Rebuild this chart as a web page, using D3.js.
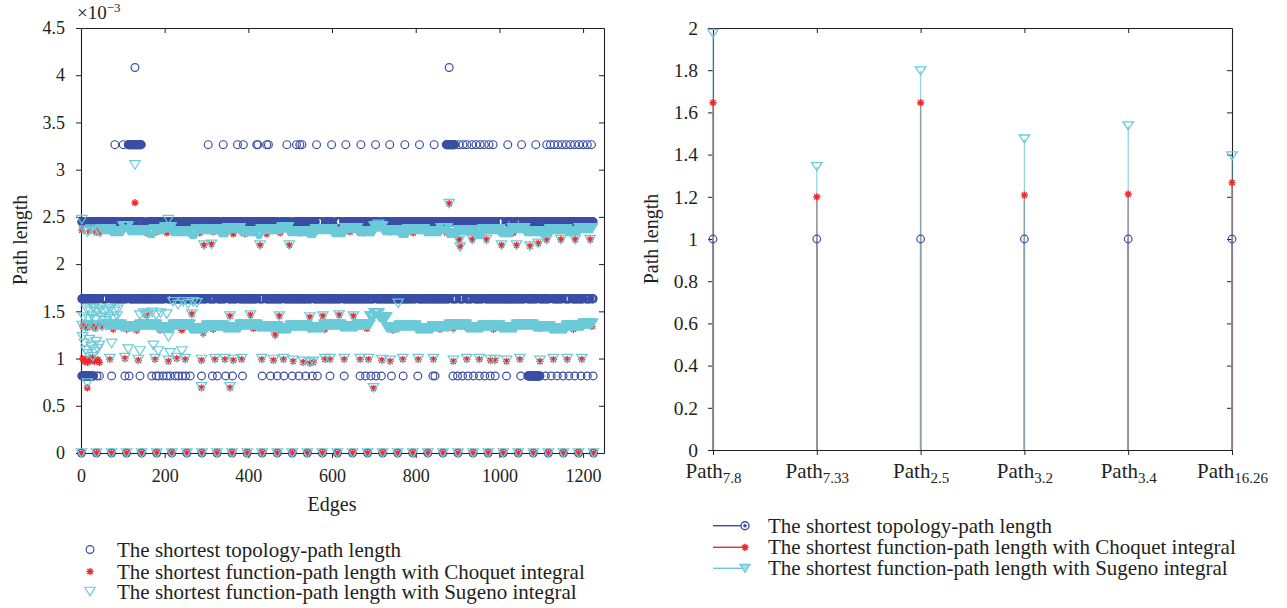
<!DOCTYPE html>
<html>
<head>
<meta charset="utf-8">
<script src="https://cdn.jsdelivr.net/npm/d3@7"></script>
<style>
  body { margin: 0; background: #fff; }
  svg { display: block; }
  svg text { font-family: "Liberation Serif", "DejaVu Serif", serif !important; }
</style>
</head>
<body>
<svg id="chart" width="1287" height="608"></svg>
<script>
// ---------------- left panel: path length per edge (values ×10^-3) ----------------
const edgeTicks = [0, 200, 400, 600, 800, 1000, 1200];
const lengthTicks = [0, 0.5, 1, 1.5, 2, 2.5, 3, 3.5, 4, 4.5];

// self-pairs of the 35-node network: every series is 0 there
const diagonalEdges = [1, 37, 73, 109, 145, 181, 217, 253, 289, 325, 361, 397, 433, 469, 505, 541, 577, 613,
  649, 685, 721, 757, 793, 829, 865, 901, 937, 973, 1009, 1045, 1081, 1117, 1153, 1189, 1225];

// topology path length for 1..5 hops
const topologyLevels = [0.816, 1.633, 2.449, 3.265, 4.082];

// 1 hop
const topologyRuns1 = [[2, 30], [1068, 1097]];
const topologyEdges1 = [38, 44, 73, 105, 115, 141, 169, 180, 186, 196, 205, 213, 225, 233, 242, 250, 261, 288,
  314, 326, 346, 362, 386, 433, 453, 469, 485, 505, 521, 537, 553, 565, 595, 629, 667, 680, 693, 705, 718, 742,
  770, 805, 841, 846, 889, 900, 912, 925, 938, 952, 965, 978, 990, 1017, 1051, 1110, 1124, 1138, 1152, 1166,
  1180, 1195, 1210, 1224];
// 2 hops
const topologyRuns2 = [[2, 44], [50, 62], [70, 110], [116, 200], [206, 216], [222, 300], [306, 320], [326, 344],
  [352, 372], [378, 420], [426, 436], [442, 480], [486, 550], [556, 620], [626, 700], [706, 800], [806, 880],
  [886, 898], [904, 914], [920, 934], [940, 960], [966, 1060], [1066, 1090], [1096, 1120], [1128, 1150],
  [1156, 1168], [1174, 1200], [1206, 1216], [1220, 1224]];
// 3 hops
const topologyRuns3 = [[2, 40], [46, 96], [104, 126], [134, 150], [160, 200], [208, 236], [244, 262], [270, 300],
  [306, 330], [338, 400], [408, 470], [478, 500], [510, 560], [566, 575], [584, 600], [610, 620], [628, 660],
  [668, 690], [698, 712], [720, 740], [748, 800], [806, 852], [858, 900], [906, 960], [966, 990], [998, 1008],
  [1016, 1030], [1038, 1052], [1060, 1100], [1106, 1150], [1158, 1190], [1196, 1224]];
// 4 hops
const topologyRuns4 = [[113, 145], [873, 893]];
const topologyEdges4 = [81, 101, 304, 340, 374, 388, 420, 423, 444, 448, 492, 515, 523, 528, 563, 599, 633, 669,
  704, 738, 774, 809, 844, 903, 913, 922, 934, 944, 954, 964, 975, 985, 1020, 1053, 1087, 1113, 1122, 1131,
  1140, 1150, 1160, 1170, 1180, 1190, 1200, 1210, 1220];
// 5 hops
const topologyEdges5 = [129, 880];

// function path length with Choquet integral: [edge, length]
const choquetPoints = [
  [2, 2.36], [20, 2.35], [36, 2.34], [40, 2.36], [44, 2.33], [129, 2.65], [880, 2.64], [711, 2.42], [993, 2.37],
  [157, 2.33], [181, 2.34], [205, 2.33], [221, 2.35], [284, 2.33], [316, 2.34], [364, 2.32], [392, 2.32],
  [444, 2.32], [476, 2.33], [523, 2.33], [555, 2.34], [619, 2.33], [643, 2.34], [675, 2.33], [738, 2.34],
  [794, 2.33], [826, 2.34], [874, 2.33], [1033, 2.33], [1065, 2.34],
  [294, 2.2], [312, 2.21], [428, 2.2], [498, 2.2], [904, 2.26], [906, 2.19], [935, 2.26], [969, 2.26],
  [1005, 2.2], [1041, 2.2], [1073, 2.19], [1093, 2.22], [1113, 2.26], [1147, 2.26], [1181, 2.26], [1217, 2.26],
  [157, 1.46], [265, 1.47], [356, 1.45], [405, 1.46], [474, 1.45], [547, 1.44], [578, 1.45], [617, 1.46], [651, 1.45],
  [4, 1.34], [10, 1.36], [16, 1.33], [22, 1.37], [28, 1.35], [34, 1.32], [42, 1.36], [48, 1.34],
  [77, 1.31], [109, 1.31], [133, 1.3], [189, 1.3], [241, 1.3], [316, 1.31], [412, 1.32], [484, 1.32],
  [583, 1.31], [683, 1.32], [746, 1.3], [858, 1.31], [890, 1.32], [922, 1.33], [946, 1.32], [986, 1.31],
  [1097, 1.32], [1129, 1.33], [1177, 1.31], [1221, 1.34],
  [292, 1.27], [464, 1.25],
  [4, 1.0], [8, 0.97], [12, 0.99], [16, 0.96], [20, 1.0], [24, 0.98], [28, 1.01], [32, 0.97], [40, 0.99], [44, 0.96],
  [69, 0.99], [105, 1.0], [137, 0.98], [177, 0.99], [209, 0.97], [229, 1.0], [249, 0.99], [288, 0.98], [320, 0.99],
  [344, 0.99], [364, 0.98], [384, 0.99], [432, 0.99], [460, 0.98], [484, 0.99], [507, 0.97], [531, 0.96],
  [547, 0.95], [555, 0.96], [583, 0.99], [595, 0.99], [629, 0.99], [667, 0.99], [687, 0.99], [719, 0.98],
  [739, 0.97], [769, 0.99], [806, 0.99], [842, 0.99], [890, 0.97], [922, 0.99], [952, 0.99], [979, 0.98],
  [989, 0.98], [1017, 0.97], [1049, 0.99], [1097, 0.97], [1129, 0.99], [1162, 0.99], [1197, 0.99],
  [15, 0.69], [288, 0.69], [356, 0.69], [699, 0.685]
];

// function path length with Sugeno integral: runs of consecutive edges [length, firstEdge, lastEdge]
const sugenoRuns = [
  [2.37, 50, 70], [2.35, 71, 100], [2.40, 101, 112], [2.36, 113, 160], [2.33, 161, 175], [2.37, 176, 200],
  [2.39, 201, 215], [2.35, 216, 260], [2.32, 261, 275], [2.37, 276, 330], [2.34, 331, 350], [2.38, 351, 380],
  [2.35, 381, 420], [2.32, 421, 430], [2.37, 431, 480], [2.39, 481, 495], [2.35, 496, 540], [2.33, 541, 560],
  [2.37, 561, 600], [2.34, 601, 630], [2.38, 631, 660], [2.35, 661, 700], [2.40, 701, 720], [2.36, 721, 760],
  [2.33, 761, 780], [2.37, 781, 820], [2.35, 821, 860], [2.38, 861, 875], [2.33, 876, 900], [2.36, 901, 940],
  [2.32, 941, 960], [2.37, 961, 1000], [2.34, 1001, 1030], [2.38, 1031, 1060], [2.35, 1061, 1100],
  [2.33, 1101, 1120], [2.37, 1121, 1160], [2.35, 1161, 1190], [2.38, 1191, 1222],
  [1.36, 62, 95], [1.34, 96, 140], [1.36, 141, 180], [1.33, 181, 220], [1.36, 221, 260], [1.32, 261, 300],
  [1.35, 301, 340], [1.33, 341, 380], [1.36, 381, 420], [1.34, 421, 470], [1.32, 471, 500], [1.35, 501, 540],
  [1.33, 541, 580], [1.36, 581, 620], [1.34, 621, 660], [1.36, 661, 690], [1.45, 691, 700], [1.48, 701, 712],
  [1.44, 713, 730], [1.33, 731, 760], [1.35, 761, 800], [1.32, 801, 840], [1.34, 841, 880], [1.36, 881, 920],
  [1.33, 921, 960], [1.35, 961, 1000], [1.33, 1001, 1040], [1.36, 1041, 1080], [1.34, 1081, 1120],
  [1.32, 1121, 1160], [1.35, 1161, 1200], [1.37, 1201, 1222]
];
// isolated Sugeno values: [edge, length]
const sugenoPoints = [
  [2, 2.47], [8, 2.36], [16, 2.34], [24, 2.37], [32, 2.35], [40, 2.36], [46, 2.34],
  [129, 3.05], [209, 2.47], [711, 2.42], [880, 2.64],
  [294, 2.2], [312, 2.21], [428, 2.2], [498, 2.2], [904, 2.25], [906, 2.18], [935, 2.26], [969, 2.26],
  [1005, 2.2], [1041, 2.2], [1073, 2.19], [1093, 2.22], [1113, 2.26], [1147, 2.26], [1181, 2.26], [1217, 2.26],
  [220, 1.6], [232, 1.57], [244, 1.6], [256, 1.58], [268, 1.6], [277, 1.59], [758, 1.585],
  [14, 1.52], [22, 1.5], [30, 1.53], [38, 1.5], [46, 1.52], [54, 1.49], [62, 1.51], [70, 1.53], [80, 1.5], [88, 1.52],
  [141, 1.46], [150, 1.48], [160, 1.47], [170, 1.49], [180, 1.46], [190, 1.48], [205, 1.47],
  [157, 1.46], [265, 1.47], [356, 1.45], [405, 1.46], [474, 1.45], [547, 1.44], [578, 1.45], [617, 1.46], [651, 1.45],
  [6, 1.44], [18, 1.42], [26, 1.45], [34, 1.41], [50, 1.43], [58, 1.4], [66, 1.44], [78, 1.42], [86, 1.45],
  [3, 1.35], [11, 1.33], [19, 1.36], [27, 1.34], [35, 1.33], [43, 1.36], [51, 1.34], [59, 1.35],
  [209, 1.23], [292, 1.27], [464, 1.25], [890, 1.32],
  [4, 1.23], [8, 1.16], [12, 1.09], [16, 1.05], [20, 1.2], [24, 1.13], [28, 1.02], [32, 1.07], [36, 1.18],
  [40, 1.1], [44, 1.14],
  [73, 1.16], [113, 1.1], [141, 1.08], [173, 1.14], [185, 1.08], [213, 1.06], [241, 1.08],
  [69, 1.0], [105, 1.01], [137, 0.99], [177, 1.0], [209, 0.98], [229, 1.01], [249, 1.0], [288, 0.99], [320, 1.0],
  [344, 1.0], [364, 0.99], [384, 1.0], [432, 1.0], [460, 0.99], [484, 1.0], [507, 0.98], [531, 0.97],
  [547, 0.96], [555, 0.97], [583, 1.0], [595, 1.0], [629, 1.0], [667, 1.0], [687, 1.0], [719, 0.99],
  [739, 0.98], [769, 1.0], [806, 1.0], [842, 1.0], [890, 0.98], [922, 1.0], [952, 1.0], [979, 0.99],
  [989, 0.99], [1017, 0.98], [1049, 1.0], [1097, 0.98], [1129, 1.0], [1162, 1.0], [1197, 1.0],
  [15, 0.74], [288, 0.7], [356, 0.7], [699, 0.69]
];

// ---------------- right panel: six selected paths ----------------
const pathNames = ["7.8", "7.33", "2.5", "3.2", "3.4", "16.26"];
const topologyLength = [1, 1, 1, 1, 1, 1];
const choquetLength = [1.646, 1.2, 1.646, 1.208, 1.213, 1.267];
const sugenoLength = [1.975, 1.343, 1.797, 1.474, 1.536, 1.394];
const lengthTicksRight = [0, 0.2, 0.4, 0.6, 0.8, 1, 1.2, 1.4, 1.6, 1.8, 2];

const legendLabels = [
  "The shortest topology-path length",
  "The shortest function-path length with Choquet integral",
  "The shortest function-path length with Sugeno integral"
];

// ---------------- styling ----------------
const BLUE = "#3b4fa3", RED = "#ee2a2c", CYAN = "#6ccad8", AXIS = "#231f20";
const FONT = '"Liberation Serif", "DejaVu Serif", serif';

const starPath = r => {
  const d = r * 0.72;
  return `M${-r},0L${r},0M0,${-r}L0,${r}M${-d},${-d}L${d},${d}M${-d},${d}L${d},${-d}`;
};
const triPath = (w, h) => `M${-w / 2},${-h / 2}L${w / 2},${-h / 2}L0,${h / 2}Z`;

const svg = d3.select("#chart").attr("font-family", FONT);

function styleAxis(g, size) {
  g.attr("font-family", FONT).attr("font-size", size).style("color", AXIS);
  g.select(".domain").attr("stroke-width", 1.1);
  g.selectAll(".tick line").attr("stroke-width", 1);
}

// ================= left panel =================
const diag = new Set(diagonalEdges);
const runEdges = runs => runs.flatMap(([a, b]) => d3.range(a, b + 1).filter(e => !diag.has(e)));

const topologyData = [
  ...diagonalEdges.map(e => [e, 0]),
  ...runEdges(topologyRuns1).concat(topologyEdges1).map(e => [e, topologyLevels[0]]),
  ...runEdges(topologyRuns2).map(e => [e, topologyLevels[1]]),
  ...runEdges(topologyRuns3).map(e => [e, topologyLevels[2]]),
  ...runEdges(topologyRuns4).concat(topologyEdges4).map(e => [e, topologyLevels[3]]),
  ...topologyEdges5.map(e => [e, topologyLevels[4]])
];
const choquetData = [...diagonalEdges.map(e => [e, 0]), ...choquetPoints];
const sugenoData = [
  ...diagonalEdges.map(e => [e, 0]),
  ...sugenoRuns.flatMap(([v, a, b]) => d3.range(a, b + 1).filter(e => !diag.has(e)).map(e => [e, v])),
  ...sugenoPoints
];

const xL = d3.scaleLinear().domain([0, 1250]).range([81, 604]);
const yL = d3.scaleLinear().domain([0, 4.5]).range([453, 28]);
const left = svg.append("g");

left.append("g").attr("transform", "translate(0,453)")
  .call(d3.axisBottom(xL).tickValues(edgeTicks).tickSize(5).tickSizeOuter(0).tickPadding(11).tickFormat(d => d))
  .call(g => styleAxis(g, 18));
left.append("g").attr("transform", "translate(0,28)")
  .call(d3.axisTop(xL).tickValues(edgeTicks.slice(1)).tickSize(-5).tickSizeOuter(0).tickFormat(""))
  .call(g => styleAxis(g, 18));
left.append("g").attr("transform", "translate(81,0)")
  .call(d3.axisLeft(yL).tickValues(lengthTicks).tickSize(5).tickSizeOuter(0).tickPadding(11).tickFormat(d => String(d)))
  .call(g => styleAxis(g, 18));
left.append("g").attr("transform", "translate(604,0)")
  .call(d3.axisRight(yL).tickValues(lengthTicks.slice(1, -1)).tickSize(-5).tickSizeOuter(0).tickFormat(""))
  .call(g => styleAxis(g, 18));

// exponent label
const expo = left.append("text").attr("x", 77).attr("y", 19).attr("font-size", 19).attr("fill", AXIS);
expo.append("tspan").text("×10");
expo.append("tspan").attr("dy", -7).attr("font-size", 13).text("−3");

left.append("text").attr("x", 332).attr("y", 511).attr("text-anchor", "middle")
  .attr("font-size", 20).attr("fill", AXIS).text("Edges");
left.append("text").attr("transform", "translate(26.5,240) rotate(-90)").attr("text-anchor", "middle")
  .attr("font-size", 20).attr("fill", AXIS).text("Path length");

left.append("g").selectAll("circle").data(topologyData).join("circle")
  .attr("cx", d => xL(d[0])).attr("cy", d => yL(d[1])).attr("r", 3.9)
  .attr("fill", "none").attr("stroke", BLUE).attr("stroke-width", 1.2);
left.append("g").selectAll("path").data(choquetData).join("path")
  .attr("transform", d => `translate(${xL(d[0])},${yL(d[1])})`).attr("d", starPath(3.6))
  .attr("fill", "none").attr("stroke", RED).attr("stroke-width", 1.4);
left.append("g").selectAll("path").data(sugenoData).join("path")
  .attr("transform", d => `translate(${xL(d[0])},${yL(d[1])})`).attr("d", triPath(10.5, 8.5))
  .attr("fill", "none").attr("stroke", CYAN).attr("stroke-width", 1.2).attr("stroke-linejoin", "miter");

// left legend
const legL = left.append("g");
const legLRows = [549.5, 571.5, 591.5];
legL.append("circle").attr("cx", 90).attr("cy", legLRows[0]).attr("r", 3.9)
  .attr("fill", "none").attr("stroke", BLUE).attr("stroke-width", 1.2);
legL.append("path").attr("transform", `translate(90,${legLRows[1]})`).attr("d", starPath(3.6))
  .attr("fill", "none").attr("stroke", RED).attr("stroke-width", 1.4);
legL.append("path").attr("transform", `translate(90,${legLRows[2]})`).attr("d", triPath(10.5, 8.5))
  .attr("fill", "none").attr("stroke", CYAN).attr("stroke-width", 1.2);
legL.selectAll("text").data(legendLabels).join("text")
  .attr("x", 117).attr("y", (d, i) => legLRows[i] + 7).attr("font-size", 21).attr("fill", AXIS).text(d => d);

// ================= right panel =================
const xR = d3.scalePoint().domain(pathNames).range([713, 1232]);
const yR = d3.scaleLinear().domain([0, 2]).range([450, 28]);
const right = svg.append("g");

const bottomR = right.append("g").attr("transform", "translate(0,450)")
  .call(d3.axisBottom(xR).tickSize(5).tickSizeOuter(0).tickFormat(""))
  .call(g => styleAxis(g, 21));
bottomR.selectAll(".tick text").remove();
bottomR.selectAll(".tick").append("text").attr("y", 28).attr("text-anchor", "middle")
  .attr("fill", AXIS).attr("font-size", 21)
  .each(function (d) {
    const t = d3.select(this);
    t.append("tspan").text("Path");
    t.append("tspan").attr("dy", 5).attr("font-size", 15).text(d);
  });
right.append("g").attr("transform", "translate(0,28)")
  .call(d3.axisTop(xR).tickValues(pathNames.slice(1, -1)).tickSize(-5).tickSizeOuter(0).tickFormat(""))
  .call(g => styleAxis(g, 20));
right.append("g").attr("transform", "translate(713,0)")
  .call(d3.axisLeft(yR).tickValues(lengthTicksRight).tickSize(5).tickSizeOuter(0).tickPadding(10).tickFormat(d => String(d)))
  .call(g => styleAxis(g, 19.5));
right.append("g").attr("transform", "translate(1232,0)")
  .call(d3.axisRight(yR).tickValues(lengthTicksRight.slice(1, -1)).tickSize(-5).tickSizeOuter(0).tickFormat(""))
  .call(g => styleAxis(g, 20));

right.append("text").attr("transform", "translate(658,239) rotate(-90)").attr("text-anchor", "middle")
  .attr("font-size", 20).attr("fill", AXIS).text("Path length");

const stems = [
  { vals: topologyLength, color: BLUE, opacity: 1 },
  { vals: choquetLength, color: RED, opacity: 1 },
  { vals: sugenoLength, color: CYAN, opacity: 0.75 }
];
stems.forEach(s => {
  right.append("g").selectAll("line").data(pathNames).join("line")
    .attr("x1", d => xR(d)).attr("x2", d => xR(d))
    .attr("y1", yR(0)).attr("y2", (d, i) => yR(s.vals[i]))
    .attr("stroke", s.color).attr("stroke-width", 1.3).attr("stroke-opacity", s.opacity);
});
right.append("g").selectAll("circle").data(pathNames).join("circle")
  .attr("cx", d => xR(d)).attr("cy", (d, i) => yR(topologyLength[i])).attr("r", 3.8)
  .attr("fill", "none").attr("stroke", BLUE).attr("stroke-width", 1.2);
right.append("g").selectAll("path").data(pathNames).join("path")
  .attr("transform", (d, i) => `translate(${xR(d)},${yR(choquetLength[i])})`).attr("d", starPath(3.6))
  .attr("fill", "none").attr("stroke", RED).attr("stroke-width", 1.4);
right.append("g").selectAll("path").data(pathNames).join("path")
  .attr("transform", (d, i) => `translate(${xR(d)},${yR(sugenoLength[i])})`).attr("d", triPath(10.5, 8))
  .attr("fill", "none").attr("stroke", CYAN).attr("stroke-width", 1.3);

// right legend
const legR = right.append("g");
const legRRows = [525.7, 547.3, 568.3];
[BLUE, RED, CYAN].forEach((c, i) => {
  legR.append("line").attr("x1", 713).attr("x2", 745).attr("y1", legRRows[i]).attr("y2", legRRows[i])
    .attr("stroke", c).attr("stroke-width", 1.4);
});
legR.append("circle").attr("cx", 745).attr("cy", legRRows[0]).attr("r", 4)
  .attr("fill", "#fff").attr("stroke", BLUE).attr("stroke-width", 1.4);
legR.append("circle").attr("cx", 745).attr("cy", legRRows[0]).attr("r", 1.8).attr("fill", BLUE);
legR.append("path").attr("transform", `translate(745,${legRRows[1]})`).attr("d", starPath(3.6))
  .attr("fill", "none").attr("stroke", RED).attr("stroke-width", 1.6);
legR.append("path").attr("transform", `translate(745,${legRRows[2]})`).attr("d", triPath(10, 8))
  .attr("fill", "#9ddbe5").attr("stroke", CYAN).attr("stroke-width", 1.3);
legR.selectAll("text").data(legendLabels).join("text")
  .attr("x", 768).attr("y", (d, i) => legRRows[i] + 7).attr("font-size", 21).attr("fill", AXIS).text(d => d);
</script>
</body>
</html>
